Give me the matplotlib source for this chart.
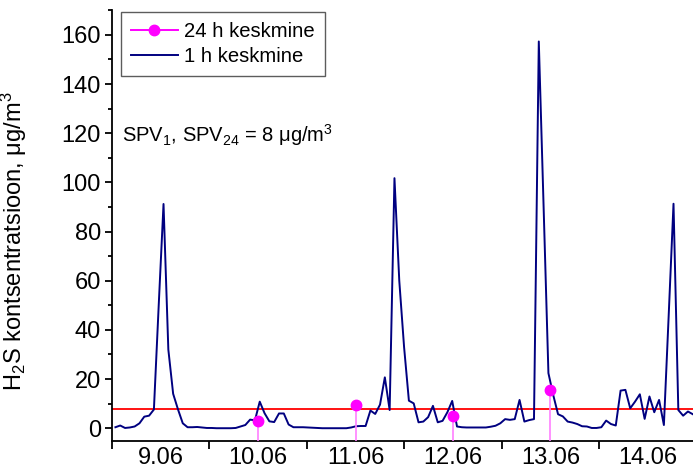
import numpy as np
import matplotlib
matplotlib.use("Agg")
import matplotlib.pyplot as plt
from matplotlib.lines import Line2D

plt.rcParams["font.family"] = ["Liberation Sans", "DejaVu Sans"]
plt.rcParams["mathtext.fontset"] = "custom"
plt.rcParams["mathtext.rm"] = "Liberation Sans"
plt.rcParams["mathtext.it"] = "Liberation Sans:italic"
plt.rcParams["mathtext.default"] = "regular"

# Sampling grid of the continuous record (hours from 9.06 00:00)
first_hour = 0.84
step_hours = 1.185

# Short-interval H2S concentration, ug/m3
conc_1h = [
    0.4, 1.1, 0.1, 0.3, 0.7, 2.0, 4.7, 5.1, 7.6, 50.0,
    91.2, 32.0, 14.0, 7.7, 2.0, 0.4, 0.4, 0.5, 0.3, 0.1,
    0.1, 0.0, 0.0, 0.0, 0.0, 0.1, 0.7, 1.3, 3.5, 3.2,
    10.8, 6.1, 2.8, 2.5, 6.0, 6.0, 1.5, 0.4, 0.4, 0.4,
    0.3, 0.2, 0.1, 0.0, 0.0, 0.0, 0.0, 0.0, 0.0, 0.3,
    0.8, 0.9, 0.9, 7.2, 5.8, 9.6, 20.7, 7.4, 101.7, 60.0,
    33.0, 11.2, 10.1, 2.4, 2.7, 4.5, 9.1, 2.4, 3.0, 6.5,
    11.1, 0.7, 0.4, 0.3, 0.3, 0.3, 0.3, 0.3, 0.6, 1.0,
    2.0, 3.7, 3.4, 3.7, 11.5, 2.7, 3.3, 3.7, 157.3, 90.0,
    22.4, 13.5, 5.7, 4.8, 2.7, 2.3, 1.7, 0.8, 0.7, 0.1,
    0.1, 0.4, 3.1, 1.7, 1.1, 15.3, 15.6, 8.1, 10.8, 13.8,
    3.8, 12.9, 6.5, 11.5, 1.3, 46.0, 91.3, 7.4, 5.1, 6.8,
    5.7,
]

# Daily means, plotted at noon of each day
day_labels = ["9.06", "10.06", "11.06", "12.06", "13.06", "14.06"]
mean_hours = [36, 60, 84, 108]
conc_24h = [3.1, 9.5, 4.8, 15.6]

limit_value = 8  # SPV1, SPV24

navy = "#000080"
magenta = "#ff00ff"
stem_pink = "#ff7fff"
red = "#ff0000"

W, H = 693, 468
fig = plt.figure(figsize=(W / 100, H / 100), dpi=100)
ax = fig.add_axes([112 / W, 27 / H, (W - 112) / W, 431 / H])

hours = first_hour + step_hours * np.arange(len(conc_1h))

y_bottom, y_top = -5.2, 170.1
x_left, x_right = 0.0, 143.1

ax.axhline(limit_value, color=red, lw=1.3, zorder=2)
ax.plot(hours, conc_1h, color=navy, lw=1.4, zorder=3)
ax.vlines(mean_hours, y_bottom, conc_24h, color=stem_pink, lw=1.2, zorder=4)
ax.plot(mean_hours, conc_24h, "o", color=magenta, ms=7.5, mec=magenta, zorder=5)

ax.set_xlim(x_left, x_right)
ax.set_ylim(y_bottom, y_top)

for side in ("top", "right"):
    ax.spines[side].set_visible(False)
for side in ("left", "bottom"):
    ax.spines[side].set_linewidth(1.3)

day_starts = np.arange(0, 24 * len(day_labels), 24)
ax.set_xticks(day_starts)
ax.set_xticklabels([])
ax.set_xticks(day_starts + 12, minor=True)
ax.set_xticklabels(day_labels, minor=True)
ax.tick_params(axis="x", which="major", direction="out", length=6, width=1.3)
ax.tick_params(axis="x", which="minor", length=0, pad=4.5, labelsize=17)

ax.set_yticks(np.arange(0, 161, 20))
ax.set_yticks(np.arange(0, 171, 10), minor=True)
ax.tick_params(axis="y", which="major", direction="out", length=5, width=1.3,
               labelsize=17, pad=3)
ax.tick_params(axis="y", which="minor", direction="out", length=3, width=1.3)

ax.set_ylabel("H$_2$S kontsentratsioon, μg/m$^3$", fontsize=17)
ax.yaxis.set_label_coords(-0.143, 0.463)

ax.text(0.0167, 0.694, "SPV$_1$, SPV$_{24}$ = 8 μg/m$^3$", transform=ax.transAxes,
        fontsize=14.5, ha="left", va="baseline")

handles = [
    Line2D([], [], color=magenta, lw=1.4, marker="o", ms=7.5),
    Line2D([], [], color=navy, lw=1.4),
]
leg = ax.legend(handles, ["24 h keskmine", "1 h keskmine"], loc="upper left",
                bbox_to_anchor=(8.5 / 581, 1 - 2 / 431), fontsize=14.6,
                frameon=True, fancybox=False, edgecolor="#333333",
                handlelength=2.35, handletextpad=0.3, borderpad=0.5,
                labelspacing=0.3, borderaxespad=0)
leg.get_frame().set_linewidth(1.0)

fig.savefig("out.png", dpi=100)
